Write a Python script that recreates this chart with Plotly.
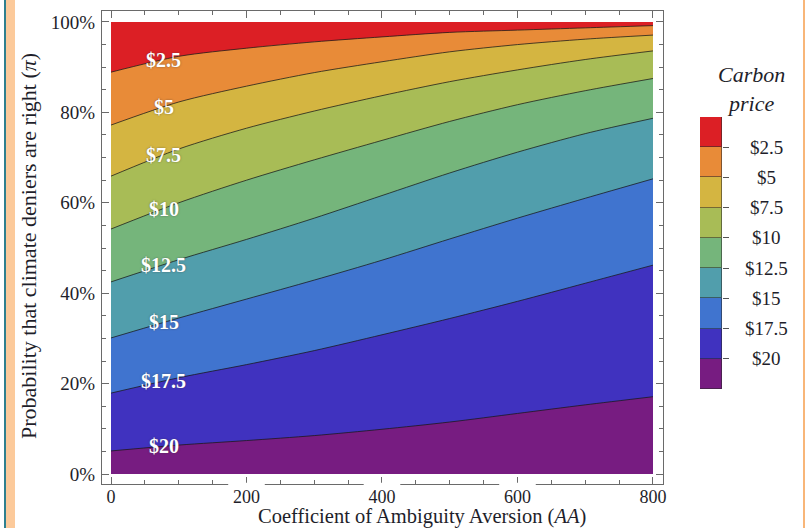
import numpy as np
import plotly.graph_objects as go
from plotly.subplots import make_subplots

# ---------------- data ----------------
aa = [0, 100, 200, 300, 400, 500, 600, 700, 800]          # coefficient of ambiguity aversion
level_labels = ["$2.5", "$5", "$7.5", "$10", "$12.5", "$15", "$17.5", "$20"]
# probability (%) at which the carbon price equals each level
c_2_5 = [88.9, 92.4, 94.2, 95.6, 96.7, 97.7, 98.2, 98.7, 99.2]
c_5 = [77.2, 82.3, 85.8, 88.8, 91.2, 93.4, 95.0, 96.2, 97.1]
c_7_5 = [65.9, 71.9, 76.5, 80.3, 83.7, 86.8, 89.4, 91.7, 93.6]
c_10 = [54.2, 60.0, 65.0, 69.5, 73.8, 78.0, 81.7, 84.8, 87.5]
c_12_5 = [42.5, 47.4, 51.9, 56.6, 61.6, 66.6, 71.2, 75.3, 78.7]
c_15 = [30.1, 34.5, 38.7, 42.9, 47.3, 52.0, 56.6, 61.0, 65.3]
c_17_5 = [17.9, 21.3, 24.2, 27.3, 30.8, 34.4, 38.2, 42.2, 46.2]
c_20 = [5.1, 6.4, 7.4, 8.5, 9.9, 11.5, 13.4, 15.3, 17.1]
top = [100] * len(aa)
contours = [c_2_5, c_5, c_7_5, c_10, c_12_5, c_15, c_17_5, c_20]
label_aa = 78

band_colors = ["#DC1F25", "#E88B38", "#D4B541", "#A8BC56", "#75B57B",
               "#519EAC", "#4074CF", "#4032BF", "#771C81"]   # top (cheap) -> bottom

SERIF = "Liberation Serif, Times New Roman, serif"
TXT = "#1e1e2a"

fig = make_subplots(rows=1, cols=2, column_widths=[0.92, 0.08],
                    horizontal_spacing=0.0)

# filled bands: each boundary filled down to zero, drawn from top to bottom
bounds = [top] + contours
for i, (yb, col) in enumerate(zip(bounds, band_colors)):
    fig.add_trace(go.Scatter(
        x=aa, y=yb, mode="lines", fill="tozeroy", fillcolor=col,
        line=dict(color="rgba(25,25,25,0.85)" if i > 0 else "rgba(0,0,0,0)",
                  width=0.9 if i > 0 else 0, shape="spline", smoothing=0.8),
        hoverinfo="skip", showlegend=False), row=1, col=1)

# contour labels
for lab, yb in zip(level_labels, contours):
    fig.add_annotation(x=label_aa, y=float(np.interp(label_aa, aa, yb)),
                       xref="x", yref="y", text=lab, showarrow=False,
                       xanchor="center", yanchor="middle",
                       font=dict(family=SERIF, size=20, color="white", weight="bold",
                                 shadow="0px 0px 2px rgba(60,60,60,0.6)"))

# legend bar (colour key)
n = len(band_colors)
for i, col in enumerate(band_colors[::-1]):
    fig.add_trace(go.Bar(x=[0], y=[1], marker=dict(color=col,
                  line=dict(color="rgba(40,40,40,0.55)", width=1)),
                  width=1, hoverinfo="skip", showlegend=False), row=1, col=2)
for k, lab in enumerate(level_labels):
    fig.add_annotation(x=(766 - 102) / 620, xref="paper", y=n - 1 - k, yref="y2",
                       text=lab, showarrow=False, xanchor="center", yanchor="middle",
                       font=dict(family=SERIF, size=19, color=TXT))

fig.add_annotation(x=(751 - 102) / 620, xref="paper", y=(484 - 89) / 473, yref="paper",
                   text="<i>Carbon<br>price</i>", showarrow=False,
                   xanchor="center", yanchor="middle",
                   font=dict(family=SERIF, size=22, color=TXT))

# axis titles
fig.add_annotation(x=0.5, xref="paper", y=(484 - 516) / 473, yref="paper",
                   xanchor="center", yanchor="middle",
                   xshift=10, text="Coefficient of Ambiguity Aversion (<i>AA</i>)",
                   showarrow=False, font=dict(family=SERIF, size=20.5, color=TXT))
fig.add_annotation(x=(29 - 102) / 620, xref="paper", y=(484 - 246) / 473, yref="paper",
                   textangle=-90, xanchor="center", yanchor="middle",
                   text="Probability that climate deniers are right (<i>π</i>)",
                   showarrow=False, font=dict(family=SERIF, size=22, color=TXT))

axis_common = dict(showgrid=False, zeroline=False, showline=True, linecolor="#6a6a6a",
                   linewidth=1, mirror="ticks", ticks="inside", ticklen=7,
                   tickcolor="#6a6a6a", tickwidth=1)
fig.update_xaxes(range=[-13.3, 814.8], tick0=0, dtick=200,
                 minor=dict(dtick=50, ticks="inside", ticklen=4, tickcolor="#6a6a6a"),
                 domain=[0, 561 / 620], ticklabelstandoff=-4,
                 tickfont=dict(family=SERIF, size=18, color=TXT),
                 **axis_common, row=1, col=1)
fig.update_yaxes(range=[-2.21, 102.43], tick0=0, dtick=20, ticksuffix="%",
                 minor=dict(dtick=5, ticks="inside", ticklen=4, tickcolor="#6a6a6a"),
                 ticklabelstandoff=2, tickfont=dict(family=SERIF, size=19, color=TXT),
                 **axis_common, row=1, col=1)
fig.update_xaxes(domain=[598 / 620, 1.0], range=[-0.5, 0.5], visible=False, row=1, col=2)
fig.update_yaxes(domain=[95 / 473, 367 / 473], range=[0, n], side="right",
                 tickvals=list(range(1, n)), ticks="outside", ticklen=6,
                 tickcolor="#555", showticklabels=False, showgrid=False,
                 zeroline=False, showline=False, row=1, col=2)

# small breaks in the bottom axis line beside the labelled ticks
shapes = []
for xv in [200, 400, 600]:
    shapes.append(dict(type="rect", xref="x", yref="paper", x0=xv - 27, x1=xv + 27,
                       y0=-0.004, y1=0.0025, fillcolor="white", line_width=0,
                       layer="above"))
# page border decorations
shapes += [
    dict(type="rect", xref="paper", yref="paper", x0=(4 - 102) / 620, x1=(6 - 102) / 620,
         y0=-0.1, y1=1.03, fillcolor="#2F808F", line_width=0, layer="below"),
    dict(type="rect", xref="paper", yref="paper", x0=(6 - 102) / 620, x1=(15 - 102) / 620,
         y0=-0.1, y1=1.03, fillcolor="#FCCA9B", line_width=0, layer="below"),
    dict(type="rect", xref="paper", yref="paper", x0=(803 - 102) / 620, x1=(806 - 102) / 620,
         y0=-0.1, y1=1.03, fillcolor="#F8B679", line_width=0, layer="below"),
]

fig.update_layout(width=805, height=528, margin=dict(l=102, r=83, t=11, b=44),
                  paper_bgcolor="white", plot_bgcolor="white", barmode="stack",
                  bargap=0, shapes=shapes, showlegend=False)

fig.write_html("out.html")
